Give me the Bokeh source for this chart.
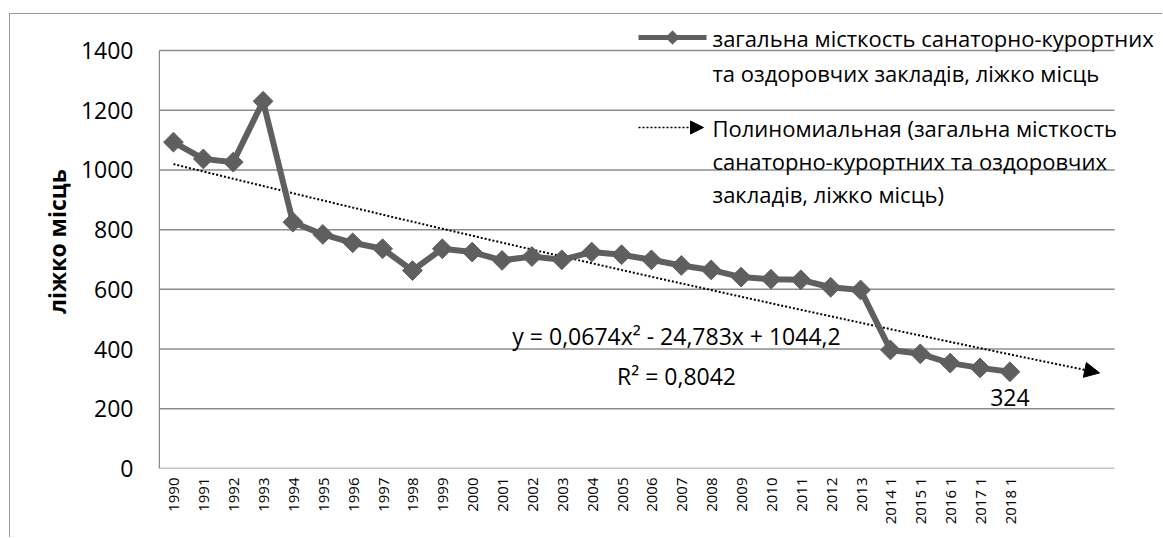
import numpy as np
from bokeh.plotting import figure
from bokeh.models import (Range1d, FixedTicker, Label, Arrow, NormalHead,
                          PolyAnnotation, Title)
from bokeh.embed import file_html
from bokeh.resources import INLINE

# ---------------- data ----------------
years = ["1990", "1991", "1992", "1993", "1994", "1995", "1996", "1997", "1998",
         "1999", "2000", "2001", "2002", "2003", "2004", "2005", "2006", "2007",
         "2008", "2009", "2010", "2011", "2012", "2013", "2014 1", "2015 1",
         "2016 1", "2017 1", "2018 1"]
capacity = [1093, 1037, 1026, 1230, 825, 784, 756, 736, 663, 736, 725, 697, 710,
            699, 725, 716, 699, 680, 665, 641, 634, 632, 607, 598, 397, 384, 353,
            337, 324]
trend_coeffs = [0.0674, -24.783, 1044.2]   # polynomial trendline shown on the chart
forecast_periods = 3
y_ticks = [0, 200, 400, 600, 800, 1000, 1200, 1400]
y_title = "ліжко місць"
legend_series = ["загальна місткость санаторно-курортних",
                 "та оздоровчих закладів, ліжко місць"]
legend_trend = ["Полиномиальная (загальна місткость",
                "санаторно-курортних та оздоровчих",
                "закладів, ліжко місць)"]
equation_text = "y = 0,0674x² - 24,783x + 1044,2"
r2_text = "R² = 0,8042"
last_label = "324"

# ---------------- geometry (page px) ----------------
OX, OY = 10, 14                  # canvas origin on the page (after margin + border)
PL, PR, P0, P1400 = 158, 1114, 468, 50   # plot area on the page
n_cat = len(years) + forecast_periods
YMAX = 1400
W, H = 1163 - OX, 538 - OY

def dx(ix):   # page px -> data x
    return 0.5 + (ix - PL) / (PR - PL) * n_cat

def dy(iy):   # page px -> data y
    return (P0 - iy) / (P0 - P1400) * YMAX

FONT = "Open Sans"
GRID = "#8c8c8c"
SER = "#5f5f5f"
BIG = "23px"

p = figure(width=W, height=H, output_backend="svg", toolbar_location=None,
           x_range=Range1d(0.5, dx(OX + W)), y_range=Range1d(0, dy(OY)),
           min_border_left=PL - OX, min_border_right=0,
           min_border_top=0, min_border_bottom=H - (P0 - OY))
p.margin = (13, 0, 0, 9)
p.styles = {"border-left": "1px solid #9a9a9a", "border-top": "1px solid #9a9a9a"}
p.outline_line_color = None
p.background_fill_color = "white"
p.border_fill_color = "white"

xs = np.arange(1, len(years) + 1)

# axes
p.xaxis.ticker = FixedTicker(ticks=list(xs))
p.xaxis.major_label_overrides = {int(i): y for i, y in zip(xs, years)}
p.xaxis.major_label_orientation = np.pi / 2
p.xaxis.major_label_text_font = FONT
p.xaxis.major_label_text_font_size = "15px"
p.xaxis.major_label_text_color = "black"
p.xaxis.major_label_standoff = 9
p.xaxis.major_tick_out = 0
p.xaxis.major_tick_in = 0
p.xaxis.minor_tick_out = 0
p.xaxis.minor_tick_in = 0
p.xaxis.axis_line_color = None

p.yaxis.ticker = FixedTicker(ticks=y_ticks)
p.yaxis.major_label_text_font = FONT
p.yaxis.major_label_text_font_size = BIG
p.yaxis.major_label_text_color = "black"
p.yaxis.major_label_standoff = 25
p.yaxis.major_tick_out = 0
p.yaxis.major_tick_in = 0
p.yaxis.minor_tick_out = 0
p.yaxis.minor_tick_in = 0
p.yaxis.axis_line_color = None

# y axis title placed as a left-side title (centred on the 0..1400 span)
p.add_layout(Title(text=y_title, align="center", offset=-18, standoff=10,
                   text_font=FONT, text_font_style="bold", text_font_size=BIG,
                   text_color="black"), "left")

# gridlines and axis lines limited to the plot area
p.xgrid.grid_line_color = None
p.ygrid.grid_line_color = None
x_left, x_right = dx(PL + 0.75), dx(PR)
p.segment(x0=[x_left] * len(y_ticks), y0=y_ticks, x1=[x_right] * len(y_ticks),
          y1=y_ticks, line_color=GRID, line_width=1.5)
p.segment(x0=[x_left], y0=[0], x1=[x_left], y1=[YMAX],
          line_color=GRID, line_width=1.5)

# trendline (evaluated from the displayed polynomial)
tx = np.linspace(1, n_cat, 300)
ty = np.polyval(trend_coeffs, tx)
stop = tx <= n_cat - 0.25
p.line(tx[stop], ty[stop], line_color="black", line_width=2, line_dash="2 2")
p.add_layout(Arrow(end=NormalHead(size=15, fill_color="black", line_color="black"),
                   x_start=n_cat - 0.3, y_start=float(np.polyval(trend_coeffs, n_cat - 0.3)),
                   x_end=n_cat, y_end=float(np.polyval(trend_coeffs, n_cat)),
                   line_alpha=0))

# series
p.line(xs, capacity, line_color=SER, line_width=6)
p.scatter(xs, capacity, marker="square", angle=np.pi / 4, size=14,
          fill_color=SER, line_color=SER)

# data label
p.add_layout(Label(x=float(xs[-1]), y=capacity[-1], text=last_label, y_offset=-26,
                   text_align="center", text_baseline="middle",
                   text_font=FONT, text_font_size=BIG, text_color="black"))

# equation
p.add_layout(Label(x=dx(676), y=dy(335), text=equation_text, text_align="center",
                   text_baseline="middle", text_font=FONT,
                   text_font_size=BIG, text_color="black"))
p.add_layout(Label(x=dx(676), y=dy(375), text=r2_text, text_align="center",
                   text_baseline="middle", text_font=FONT,
                   text_font_size=BIG, text_color="black"))

# ---------------- legend (drawn manually) ----------------
def ltext(ix, iy, t):
    p.add_layout(Label(x=dx(ix), y=dy(iy), text=t, text_align="left",
                       text_baseline="middle", text_font=FONT,
                       text_font_size="22px", text_color="black"))

# series key: line + diamond
p.add_layout(Arrow(end=None, x_start=dx(638), y_start=dy(37), x_end=dx(706), y_end=dy(37),
                   line_color=SER, line_width=5))
cx, cy, r = 672, 37, 7
p.add_layout(PolyAnnotation(xs=[dx(cx - r), dx(cx), dx(cx + r), dx(cx)],
                            ys=[dy(cy), dy(cy - r), dy(cy), dy(cy + r)],
                            fill_color=SER, fill_alpha=1, line_color=SER))
ltext(712, 37, legend_series[0])
ltext(712, 72, legend_series[1])

# trend key: dotted line + arrow
p.add_layout(Arrow(end=NormalHead(size=13, fill_color="black", line_color="black"),
                   x_start=dx(638), y_start=dy(127), x_end=dx(703), y_end=dy(127),
                   line_color="black", line_width=1.5, line_dash="2 2"))
ltext(712, 127, legend_trend[0])
ltext(712, 160, legend_trend[1])
ltext(712, 193, legend_trend[2])

open("out.html", "w").write(file_html(p, INLINE))
